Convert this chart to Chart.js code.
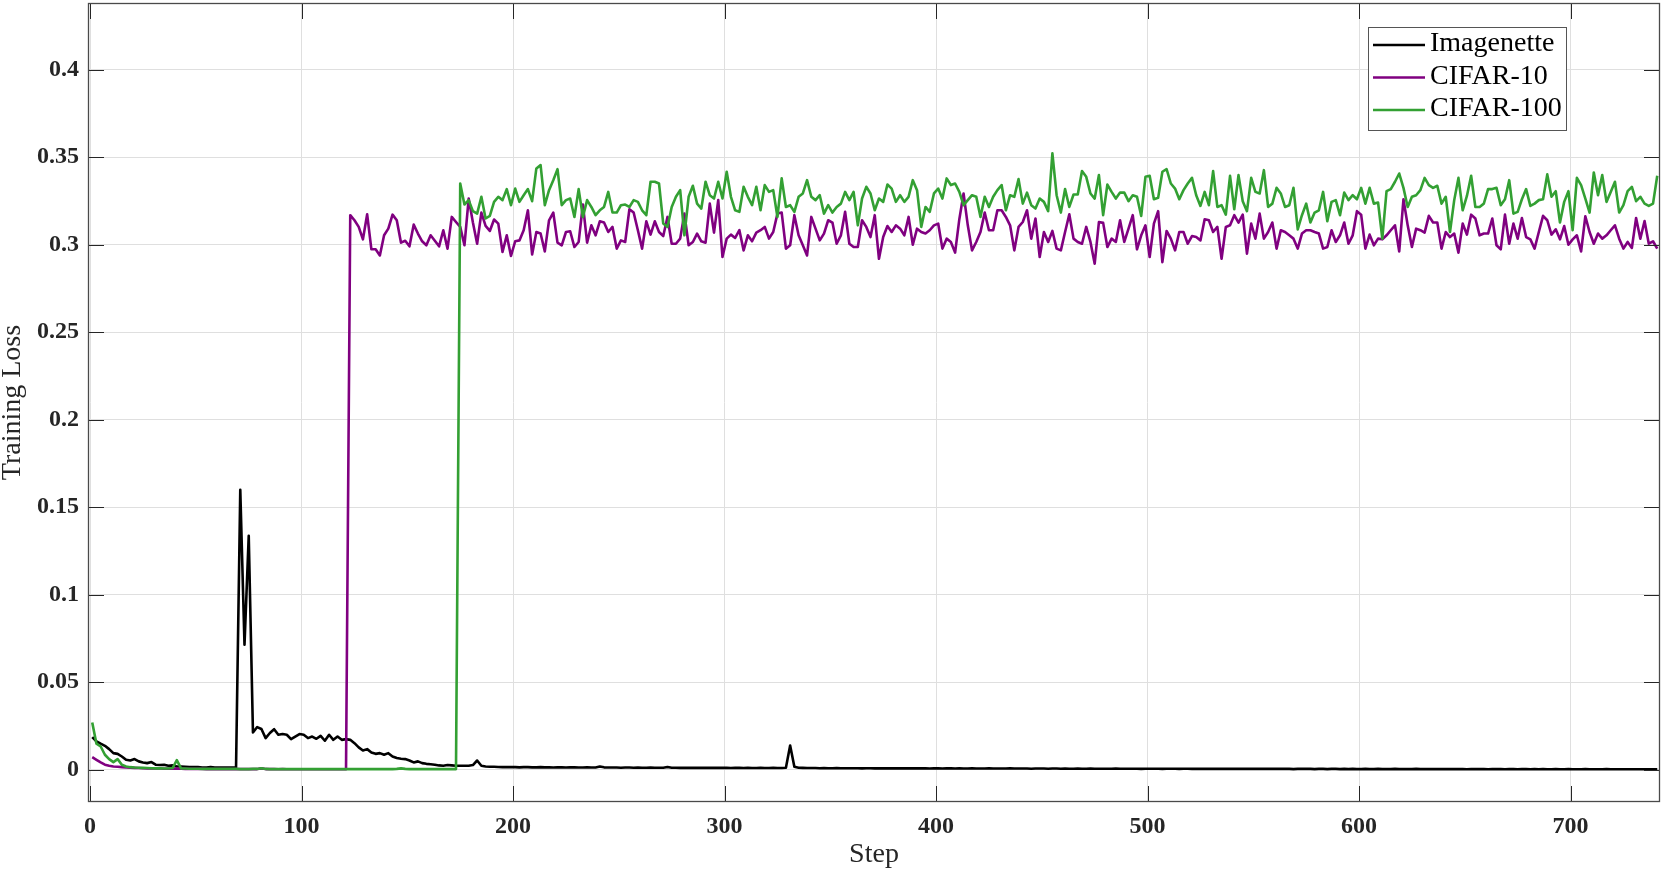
<!DOCTYPE html>
<html><head><meta charset="utf-8">
<script src="https://cdn.jsdelivr.net/npm/chart.js@4.4.1/dist/chart.umd.min.js"></script>
<style>html,body{margin:0;padding:0;background:#fff;}#wrap{width:1661px;height:871px;}</style>
</head><body><div id="wrap"><canvas id="c" width="1661" height="871"></canvas></div>
<script>
const STEPS = [
1,3,5,7,9,11,13,15,17,19,21,23,25,27,29,31,33,35,37,39,
41,43,45,47,49,51,53,55,57,59,61,63,65,67,69,71,73,75,77,79,
81,83,85,87,89,91,93,95,97,99,101,103,105,107,109,111,113,115,117,119,
121,123,125,127,129,131,133,135,137,139,141,143,145,147,149,151,153,155,157,159,
161,163,165,167,169,171,173,175,177,179,181,183,185,187,189,191,193,195,197,199,
201,203,205,207,209,211,213,215,217,219,221,223,225,227,229,231,233,235,237,239,
241,243,245,247,249,251,253,255,257,259,261,263,265,267,269,271,273,275,277,279,
281,283,285,287,289,291,293,295,297,299,301,303,305,307,309,311,313,315,317,319,
321,323,325,327,329,331,333,335,337,339,341,343,345,347,349,351,353,355,357,359,
361,363,365,367,369,371,373,375,377,379,381,383,385,387,389,391,393,395,397,399,
401,403,405,407,409,411,413,415,417,419,421,423,425,427,429,431,433,435,437,439,
441,443,445,447,449,451,453,455,457,459,461,463,465,467,469,471,473,475,477,479,
481,483,485,487,489,491,493,495,497,499,501,503,505,507,509,511,513,515,517,519,
521,523,525,527,529,531,533,535,537,539,541,543,545,547,549,551,553,555,557,559,
561,563,565,567,569,571,573,575,577,579,581,583,585,587,589,591,593,595,597,599,
601,603,605,607,609,611,613,615,617,619,621,623,625,627,629,631,633,635,637,639,
641,643,645,647,649,651,653,655,657,659,661,663,665,667,669,671,673,675,677,679,
681,683,685,687,689,691,693,695,697,699,701,703,705,707,709,711,713,715,717,719,
721,723,725,727,729,731,733,735,737,739,741];

const IMAGENETTE = [
0.0187,0.0162,0.0149,0.0137,0.0118,0.0095,0.0091,0.0076,0.0057,0.0053,
0.0061,0.0048,0.0042,0.0038,0.0044,0.0029,0.0027,0.0029,0.0023,0.0025,
0.0019,0.0019,0.0017,0.0015,0.0015,0.0015,0.0013,0.0013,0.0015,0.0013,
0.0013,0.0013,0.0013,0.0013,0.0013,0.1600,0.0714,0.1337,0.0213,0.0244,
0.0233,0.0181,0.0210,0.0232,0.0200,0.0204,0.0200,0.0175,0.0190,0.0204,
0.0200,0.0181,0.0190,0.0177,0.0194,0.0166,0.0200,0.0171,0.0190,0.0171,
0.0175,0.0171,0.0152,0.0128,0.0110,0.0118,0.0099,0.0091,0.0095,0.0086,
0.0095,0.0076,0.0067,0.0063,0.0061,0.0053,0.0042,0.0048,0.0038,0.0034,
0.0032,0.0029,0.0025,0.0023,0.0027,0.0025,0.0023,0.0023,0.0023,0.0023,
0.0027,0.0053,0.0023,0.0019,0.0017,0.0017,0.0016,0.0015,0.0016,0.0015,
0.0015,0.0014,0.0015,0.0015,0.0014,0.0014,0.0015,0.0014,0.0014,0.0013,
0.0014,0.0014,0.0013,0.0014,0.0014,0.0013,0.0013,0.0014,0.0013,0.0013,
0.0019,0.0014,0.0013,0.0013,0.0013,0.0012,0.0013,0.0013,0.0012,0.0013,
0.0012,0.0012,0.0013,0.0012,0.0012,0.0012,0.0016,0.0012,0.0012,0.0011,
0.0012,0.0011,0.0011,0.0012,0.0011,0.0011,0.0011,0.0012,0.0011,0.0011,
0.0011,0.0010,0.0011,0.0011,0.0010,0.0011,0.0010,0.0010,0.0011,0.0010,
0.0010,0.0011,0.0010,0.0010,0.0012,0.0139,0.0018,0.0012,0.0011,0.0010,
0.0010,0.0010,0.0009,0.0010,0.0009,0.0009,0.0010,0.0009,0.0009,0.0009,
0.0009,0.0009,0.0008,0.0009,0.0009,0.0008,0.0009,0.0008,0.0008,0.0009,
0.0008,0.0008,0.0008,0.0008,0.0009,0.0008,0.0008,0.0008,0.0007,0.0008,
0.0008,0.0007,0.0008,0.0008,0.0007,0.0008,0.0007,0.0007,0.0008,0.0007,
0.0007,0.0007,0.0008,0.0007,0.0007,0.0007,0.0007,0.0008,0.0007,0.0007,
0.0007,0.0007,0.0006,0.0007,0.0007,0.0007,0.0006,0.0007,0.0007,0.0006,
0.0007,0.0006,0.0006,0.0007,0.0006,0.0006,0.0007,0.0006,0.0006,0.0006,
0.0006,0.0006,0.0007,0.0006,0.0006,0.0006,0.0006,0.0006,0.0005,0.0006,
0.0006,0.0006,0.0006,0.0005,0.0006,0.0006,0.0006,0.0005,0.0006,0.0006,
0.0005,0.0006,0.0005,0.0006,0.0005,0.0005,0.0006,0.0005,0.0005,0.0005,
0.0006,0.0005,0.0005,0.0005,0.0005,0.0006,0.0005,0.0005,0.0005,0.0005,
0.0005,0.0005,0.0005,0.0005,0.0004,0.0005,0.0005,0.0005,0.0005,0.0004,
0.0005,0.0005,0.0004,0.0005,0.0005,0.0004,0.0005,0.0004,0.0005,0.0004,
0.0004,0.0005,0.0004,0.0004,0.0005,0.0004,0.0004,0.0004,0.0005,0.0004,
0.0004,0.0004,0.0004,0.0005,0.0004,0.0004,0.0004,0.0004,0.0004,0.0004,
0.0004,0.0004,0.0004,0.0004,0.0004,0.0003,0.0004,0.0004,0.0004,0.0004,
0.0003,0.0004,0.0004,0.0004,0.0003,0.0004,0.0004,0.0003,0.0004,0.0004,
0.0003,0.0004,0.0003,0.0004,0.0003,0.0003,0.0004,0.0003,0.0003,0.0004,
0.0003,0.0003,0.0003,0.0004,0.0003,0.0003,0.0003,0.0003,0.0004,0.0003,
0.0003,0.0003,0.0003,0.0003,0.0003,0.0003,0.0003,0.0003,0.0003,0.0003,0.0003];

const CIFAR10 = [
0.0072,0.0057,0.0042,0.0029,0.0023,0.0019,0.0017,0.0015,0.0013,0.0012,
0.0011,0.0010,0.0009,0.0008,0.0008,0.0007,0.0007,0.0006,0.0006,0.0006,
0.0007,0.0006,0.0005,0.0005,0.0005,0.0005,0.0005,0.0004,0.0004,0.0004,
0.0004,0.0004,0.0004,0.0004,0.0004,0.0004,0.0004,0.0004,0.0004,0.0004,
0.0008,0.0004,0.0004,0.0004,0.0003,0.0004,0.0003,0.0003,0.0003,0.0003,
0.0003,0.0003,0.0003,0.0003,0.0003,0.0003,0.0003,0.0003,0.0003,0.0003,
0.0003,
0.3168,0.3139,0.3101,0.3030,0.3173,0.2973,0.2973,0.2938,0.3053,0.3091,
0.3171,0.3139,0.3011,0.3022,0.2990,0.3114,0.3063,0.3019,0.2996,0.3053,
0.3022,0.2990,0.3082,0.2977,0.3158,0.3129,0.3101,0.2996,0.3263,0.3126,
0.3005,0.3183,0.3107,0.3078,0.3143,0.3120,0.2958,0.3053,0.2935,0.3019,
0.3024,0.3082,0.3196,0.2944,0.3072,0.3063,0.2961,0.3139,0.3183,0.3011,
0.2996,0.3072,0.3076,0.2986,0.3015,0.3229,0.3011,0.3110,0.3053,0.3133,
0.3126,0.3072,0.3101,0.2977,0.3024,0.3015,0.3202,0.3183,0.3082,0.2977,
0.3133,0.3057,0.3133,0.3072,0.3049,0.3158,0.3005,0.3005,
0.3034,0.3177,0.2996,0.3015,0.3063,0.3019,0.3011,0.3234,0.3068,0.3254,
0.2929,0.3034,0.3057,0.3038,0.3082,0.2967,0.3053,0.3019,0.3068,0.3082,
0.3101,0.3034,0.3072,0.3177,0.3183,0.2977,0.2996,0.3168,0.3053,0.2996,
0.2938,0.3158,0.3091,0.3024,0.3063,0.3139,
0.3126,0.3005,0.3053,0.3187,0.3005,0.2986,0.2986,0.3139,0.3101,0.3043,
0.3168,0.2919,0.3043,0.3106,0.3072,0.3110,0.3091,0.3053,0.3158,0.2999,
0.3091,0.3072,0.3063,0.3082,0.3110,0.3120,0.2977,0.3034,0.3015,0.2954,
0.3145,0.3292,0.3110,0.2967,0.3015,0.3072,0.3183,0.3082,0.3082,0.3196,
0.3196,0.3158,
0.3110,0.2967,0.3101,0.3129,0.3196,0.3034,0.3149,0.2929,0.3072,0.3015,
0.3078,0.2977,0.2967,0.3072,0.3173,0.3034,0.3015,0.3005,0.3101,0.3015,
0.2891,0.3129,0.3124,0.2986,0.3034,0.3015,0.3139,0.3015,0.3091,0.3168,
0.2973,0.3053,0.3110,0.2929,0.3120,0.3191,0.2900,0.3078,0.3034,0.2967,
0.3072,0.3072,0.3005,0.3049,0.3043,0.3024,0.3145,0.3139,0.3072,0.3101,
0.2919,0.3101,0.3110,0.3168,0.3126,0.3171,0.2948,0.3120,0.3034,0.3177,
0.3034,0.3072,0.3126,0.2977,0.3082,0.3072,0.3053,0.3034,0.2977,0.3063,
0.3082,0.3082,0.3072,0.3063,0.2977,0.2986,0.3082,0.3015,
0.3053,0.3126,0.3005,0.3053,0.3191,0.3171,0.2977,0.3057,0.2996,0.3034,
0.3030,0.3053,0.3082,0.3110,0.2961,0.3259,0.3110,0.2986,0.3091,0.3082,
0.3068,0.3164,0.3126,0.3126,0.2977,0.3072,0.3043,0.3063,0.2954,0.3120,
0.3057,0.3171,0.3149,0.3053,0.3063,0.3063,0.3149,0.2996,0.2973,0.3171,
0.3005,0.3120,0.3034,0.3152,0.3043,0.3030,0.2977,0.3072,0.3164,0.3139,
0.3057,0.3087,0.3030,0.3106,0.2999,0.3030,0.3053,0.2961,0.3162,0.3072,
0.3005,0.3063,0.3034,0.3053,0.3082,0.3110,0.3034,0.2977,0.3015,0.2981,
0.3152,0.3034,0.3135,0.3005,0.3019,0.2977];

const CIFAR100 = [
0.0270,0.0149,0.0133,0.0086,0.0061,0.0044,0.0061,0.0029,0.0019,0.0015,
0.0013,0.0012,0.0011,0.0010,0.0009,0.0008,0.0008,0.0007,0.0007,0.0010,
0.0055,0.0008,0.0007,0.0006,0.0006,0.0006,0.0005,0.0005,0.0005,0.0005,
0.0005,0.0005,0.0005,0.0005,0.0005,0.0004,0.0004,0.0004,0.0005,0.0005,
0.0009,0.0005,0.0004,0.0004,0.0004,0.0004,0.0004,0.0004,0.0004,0.0004,
0.0004,0.0004,0.0004,0.0004,0.0004,0.0004,0.0004,0.0004,0.0004,0.0004,
0.0004,0.0004,0.0004,0.0004,0.0004,0.0004,0.0004,0.0004,0.0004,0.0004,
0.0004,0.0004,0.0005,0.0008,0.0005,0.0004,0.0004,0.0004,0.0004,0.0004,
0.0004,0.0004,0.0004,0.0004,0.0004,0.0004,0.0004,
0.3349,0.3229,0.3254,0.3191,0.3177,0.3273,0.3149,0.3164,0.3244,0.3273,
0.3254,0.3317,0.3225,0.3320,0.3244,0.3282,0.3317,0.3248,0.3435,0.3454,
0.3225,0.3311,0.3368,0.3431,0.3225,0.3254,0.3263,0.3158,0.3317,0.3158,
0.3254,0.3215,0.3168,0.3196,0.3215,0.3301,0.3183,0.3183,0.3225,0.3229,
0.3215,0.3254,0.3244,0.3196,0.3168,0.3359,0.3359,0.3349,0.3120,0.3101,
0.3215,0.3273,
0.3311,0.3053,0.3273,0.3336,0.3234,0.3206,0.3359,0.3282,0.3263,0.3359,
0.3263,0.3416,0.3273,0.3196,0.3187,0.3330,0.3273,0.3225,0.3330,0.3196,
0.3340,0.3301,0.3311,0.3158,0.3378,0.3215,0.3225,0.3187,0.3273,0.3292,
0.3368,0.3273,0.3254,0.3282,0.3177,0.3225,0.3183,0.3215,0.3234,0.3301,
0.3254,0.3301,0.3110,0.3263,0.3330,0.3292,0.3196,0.3263,0.3244,0.3343,
0.3320,0.3244,0.3282,0.3244,0.3273,0.3368,0.3311,0.3101,0.3215,0.3187,
0.3292,0.3320,0.3263,0.3378,0.3340,0.3349,0.3301,0.3225,0.3254,0.3282,
0.3273,0.3158,0.3273,0.3215,0.3273,0.3311,0.3340,0.3196,
0.3282,0.3273,0.3374,0.3234,0.3297,0.3225,0.3206,0.3263,0.3244,0.3191,
0.3521,0.3282,0.3183,0.3317,0.3215,0.3286,0.3286,0.3420,0.3387,0.3292,
0.3263,0.3397,0.3168,0.3343,0.3301,0.3263,0.3297,0.3297,0.3248,0.3282,
0.3273,0.3164,0.3387,0.3393,0.3259,0.3267,0.3416,0.3431,0.3349,0.3320,
0.3259,0.3311,0.3349,0.3381,0.3282,0.3221,0.3301,0.3225,0.3420,0.3215,
0.3225,0.3171,0.3393,0.3202,0.3397,0.3248,0.3191,0.3381,0.3301,0.3292,
0.3425,0.3215,0.3234,0.3324,0.3292,0.3215,0.3225,0.3324,0.3087,0.3168,
0.3234,0.3126,0.3183,0.3196,0.3301,0.3133,0.3244,0.3254,
0.3168,0.3297,0.3254,0.3282,0.3259,0.3324,0.3234,0.3324,0.3234,0.3240,
0.3034,0.3305,0.3317,0.3359,0.3406,0.3324,0.3215,0.3273,0.3282,0.3311,
0.3381,0.3340,0.3324,0.3336,0.3234,0.3273,0.3072,0.3254,0.3381,0.3196,
0.3278,0.3393,0.3215,0.3215,0.3234,0.3317,0.3317,0.3324,0.3225,0.3259,
0.3368,0.3177,0.3187,0.3259,0.3317,0.3221,0.3234,0.3254,0.3259,0.3401,
0.3273,0.3305,0.3126,0.3244,0.3305,0.3082,0.3381,0.3340,0.3263,0.3183,
0.3412,0.3282,0.3397,0.3244,0.3301,0.3359,0.3183,0.3225,0.3305,0.3330,
0.3248,0.3273,0.3234,0.3221,0.3234,0.3393];

const SERIES_NAMES = ['Imagenette', 'CIFAR-10', 'CIFAR-100'];
const X_TICKS = [0, 100, 200, 300, 400, 500, 600, 700];
const X_TICK_LABELS = ['0', '100', '200', '300', '400', '500', '600', '700'];
const Y_TICKS = [0, 0.05, 0.1, 0.15, 0.2, 0.25, 0.3, 0.35, 0.4];
const Y_TICK_LABELS = ['0', '0.05', '0.1', '0.15', '0.2', '0.25', '0.3', '0.35', '0.4'];
const X_TITLE = 'Step';
const Y_TITLE = 'Training Loss';

const SERIF = "'Liberation Serif','Times New Roman',serif";
const AXIS_COLOR = '#262626';
const GRID_COLOR = '#dfdfdf';

const toPoints = vals => STEPS.map((s, i) => ({ x: s, y: vals[i] }));

const frameTicks = {
  id: 'frameTicks',
  afterDatasetsDraw(chart) {
    const { ctx, chartArea: a, scales: { x, y } } = chart;
    const L = 16;
    ctx.save();
    ctx.strokeStyle = AXIS_COLOR;
    ctx.lineWidth = 1;
    ctx.beginPath();
    x.ticks.forEach(t => {
      const px = Math.round(x.getPixelForValue(t.value)) + 0.5;
      ctx.moveTo(px, a.bottom); ctx.lineTo(px, a.bottom - L);
      ctx.moveTo(px, a.top); ctx.lineTo(px, a.top + L);
    });
    y.ticks.forEach(t => {
      const py = Math.round(y.getPixelForValue(t.value)) + 0.5;
      ctx.moveTo(a.left, py); ctx.lineTo(a.left + L, py);
      ctx.moveTo(a.right, py); ctx.lineTo(a.right - L, py);
    });
    ctx.stroke();
    ctx.strokeStyle = '#4a4a4a';
    ctx.lineWidth = 1.3;
    ctx.strokeRect(a.left + 0.5, a.top + 0.5, a.right - a.left - 1, a.bottom - a.top - 1);
    ctx.restore();
  }
};

const boxLegend = {
  id: 'boxLegend',
  afterDraw(chart) {
    const { ctx, chartArea: a } = chart;
    const bx = a.right - 292, by = a.top + 24, bw = 198, bh = 103;
    ctx.save();
    ctx.fillStyle = '#ffffff';
    ctx.fillRect(bx, by, bw, bh);
    ctx.strokeStyle = '#555555';
    ctx.lineWidth = 1;
    ctx.strokeRect(bx + 0.5, by + 0.5, bw, bh);
    ctx.font = '28px ' + SERIF;
    ctx.textBaseline = 'middle';
    ctx.textAlign = 'left';
    chart.data.datasets.forEach((ds, i) => {
      const cy = by + 17 + i * 32.5;
      ctx.strokeStyle = ds.borderColor;
      ctx.lineWidth = 2.5;
      ctx.beginPath();
      ctx.moveTo(bx + 5, cy + 1);
      ctx.lineTo(bx + 57, cy + 1);
      ctx.stroke();
      ctx.fillStyle = '#000000';
      ctx.fillText(ds.label, bx + 62, cy);
    });
    ctx.restore();
  }
};

new Chart(document.getElementById('c'), {
  type: 'line',
  data: {
    datasets: [
      { label: SERIES_NAMES[0], data: toPoints(IMAGENETTE), borderColor: '#000000', backgroundColor: '#000000', order: 2 },
      { label: SERIES_NAMES[1], data: toPoints(CIFAR10), borderColor: '#800080', backgroundColor: '#800080', order: 1 },
      { label: SERIES_NAMES[2], data: toPoints(CIFAR100), borderColor: '#33a033', backgroundColor: '#33a033', order: 0 }
    ]
  },
  options: {
    responsive: false,
    animation: false,
    events: [],
    layout: { padding: { top: 3, right: 1, left: 0, bottom: 0 } },
    elements: {
      line: { borderWidth: 2.6, tension: 0, fill: false, borderJoinStyle: 'round' },
      point: { radius: 0, hoverRadius: 0 }
    },
    plugins: { legend: { display: false }, tooltip: { enabled: false } },
    scales: {
      x: {
        type: 'linear',
        min: -1,
        max: 742.3,
        afterBuildTicks: s => { s.ticks = X_TICKS.map(v => ({ value: v })); },
        afterFit: s => { s.height = 69; s.paddingLeft = 0; s.paddingRight = 0; },
        ticks: {
          autoSkip: false, maxRotation: 0, padding: 10, color: AXIS_COLOR,
          font: { family: SERIF, size: 24, weight: 'bold' },
          callback: (v, i) => X_TICK_LABELS[i]
        },
        grid: { color: GRID_COLOR, lineWidth: 1, drawTicks: false },
        border: { display: false },
        title: {
          display: true, text: X_TITLE, color: AXIS_COLOR,
          font: { family: SERIF, size: 28, lineHeight: 1.2 },
          padding: { top: 0, bottom: 0 }
        }
      },
      y: {
        type: 'linear',
        min: -0.0184,
        max: 0.438,
        afterBuildTicks: s => { s.ticks = Y_TICKS.map(v => ({ value: v })); },
        afterFit: s => { s.width = 88; s.paddingTop = 0; s.paddingBottom = 0; },
        ticks: {
          autoSkip: false, padding: 9, color: AXIS_COLOR,
          font: { family: SERIF, size: 24, weight: 'bold' },
          callback: (v, i) => Y_TICK_LABELS[i]
        },
        grid: { color: GRID_COLOR, lineWidth: 1, drawTicks: false },
        border: { display: false },
        title: {
          display: true, text: Y_TITLE, color: AXIS_COLOR,
          font: { family: SERIF, size: 28, lineHeight: 0.9 },
          padding: { top: 0, bottom: 0 }
        }
      }
    }
  },
  plugins: [frameTicks, boxLegend]
});
</script>
</body></html>
